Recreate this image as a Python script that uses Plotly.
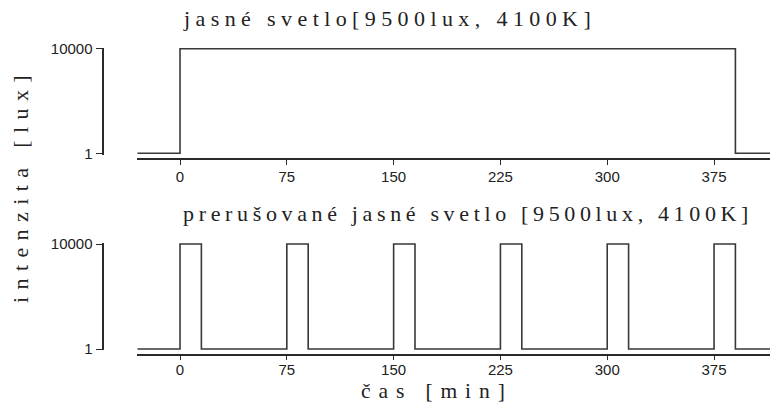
import plotly.graph_objects as go

# Light schedules (time in minutes, intensity in lux)
continuous_t = [-30, 0, 390, 415]
continuous_lux = [1, 10000, 1, 1]

intermittent_t = [-30, 0, 15, 75, 90, 150, 165, 225, 240, 300, 315, 375, 390, 415]
intermittent_lux = [1, 10000, 1, 10000, 1, 10000, 1, 10000, 1, 10000, 1, 10000, 1, 1]

x_ticks = [0, 75, 150, 225, 300, 375]
y_ticks = [1, 10000]
y_ticktext = ["1", "10000"]

title_top = "jasné svetlo[9500lux, 4100K]"
title_bottom = "prerušované jasné svetlo [9500lux, 4100K]"
y_title = "intenzita [lux]"
x_title = "čas [min]"

W, H = 770, 403
SERIF = "Liberation Serif, Times New Roman, serif"
SANS = "Liberation Sans, Arial, sans-serif"
LINE = "#383838"
AXIS = "#2a2a2a"


def py(p):
    """pixel row -> paper fraction"""
    return 1 - p / H


def px(p):
    return p / W


def spaced(text, sp):
    return f'<span style="letter-spacing:{sp}px">{text}</span>'


fig = go.Figure()
fig.add_trace(go.Scatter(x=continuous_t, y=continuous_lux, mode="lines",
                         line=dict(shape="hv", color=LINE, width=1.6),
                         xaxis="x", yaxis="y", showlegend=False))
fig.add_trace(go.Scatter(x=intermittent_t, y=intermittent_lux, mode="lines",
                         line=dict(shape="hv", color=LINE, width=1.6),
                         xaxis="x2", yaxis="y2", showlegend=False))

x_dom = [px(137.3), 1.0]
x_range = [-30.0, 414.3]

xcommon = dict(range=x_range, domain=x_dom, tickvals=x_ticks, ticks="outside",
               ticklen=5, tickwidth=1.2, tickcolor=AXIS, showline=True,
               linecolor=AXIS, linewidth=1.5, showgrid=False, zeroline=False,
               tickfont=dict(family=SANS, size=15, color="#222"),
               anchor="free", automargin=False)
ycommon = dict(type="log", tickvals=y_ticks, ticktext=y_ticktext, ticks="outside",
               ticklen=7, tickwidth=1.2, tickcolor=AXIS, showline=True,
               linecolor=AXIS, linewidth=1.5, showgrid=False, zeroline=False,
               tickfont=dict(family=SANS, size=15, color="#222"),
               anchor="free", position=px(103.3), automargin=False)

# top panel: 1 -> 153.3 px, 10000 -> 48.7 px
top_unit = (153.3 - 48.7) / 4
top_dom = [py(154.5), py(47.5)]
top_rng = [-(154.5 - 153.3) / top_unit, 4 + (48.7 - 47.5) / top_unit]
# bottom panel: 1 -> 349 px, 10000 -> 244 px
bot_unit = (349.0 - 244.0) / 4
bot_dom = [py(350.2), py(242.8)]
bot_rng = [-(350.2 - 349.0) / bot_unit, 4 + (244.0 - 242.8) / bot_unit]

fig.update_layout(
    template="none",
    width=W, height=H,
    margin=dict(l=0, r=0, t=0, b=0),
    paper_bgcolor="white", plot_bgcolor="white",
    xaxis=dict(**xcommon, position=py(159.0), ticklabelstandoff=-1),
    yaxis=dict(**ycommon, domain=top_dom, range=top_rng),
    xaxis2=dict(**xcommon, position=py(354.5), ticklabelstandoff=-3),
    yaxis2=dict(**ycommon, domain=bot_dom, range=bot_rng),
)

tfont = dict(family=SERIF, size=22, color="#222")
fig.add_annotation(text=spaced(title_top, 5.4), xref="paper", yref="paper",
                   x=px(181), y=py(28), xanchor="left", yanchor="bottom",
                   showarrow=False, font=tfont, yshift=-5)
fig.add_annotation(text=spaced(title_bottom, 4.65), xref="paper", yref="paper",
                   x=px(181), y=py(223.5), xanchor="left", yanchor="bottom",
                   showarrow=False, font=tfont, yshift=-5)
fig.add_annotation(text=spaced(y_title, 7.4), xref="paper", yref="paper",
                   x=px(20), y=py(186), xanchor="center", yanchor="middle",
                   textangle=-90, showarrow=False, font=tfont)
fig.add_annotation(text=spaced(x_title, 7.9), xref="paper", yref="paper",
                   x=px(437), y=py(391), xanchor="center", yanchor="middle",
                   showarrow=False, font=dict(family=SERIF, size=21.5, color="#222"))

fig.write_html("out.html")
